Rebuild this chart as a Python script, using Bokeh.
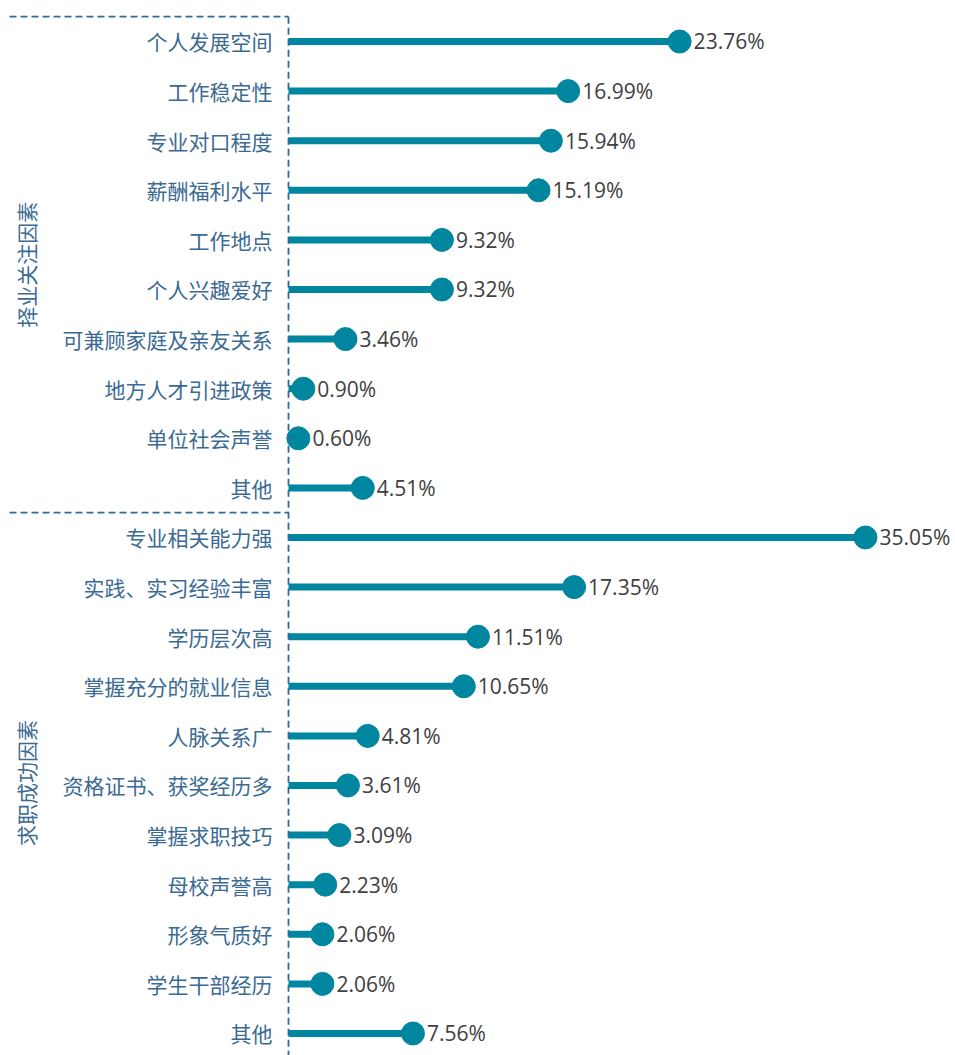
from bokeh.plotting import figure
from bokeh.models import ColumnDataSource, Range1d
from bokeh.core.properties import value
from bokeh.embed import file_html
from bokeh.resources import INLINE
import math

group_labels = ["择业关注因素", "求职成功因素"]
categories1 = ["个人发展空间", "工作稳定性", "专业对口程度", "薪酬福利水平", "工作地点",
               "个人兴趣爱好", "可兼顾家庭及亲友关系", "地方人才引进政策", "单位社会声誉", "其他"]
values1 = [23.76, 16.99, 15.94, 15.19, 9.32, 9.32, 3.46, 0.90, 0.60, 4.51]
categories2 = ["专业相关能力强", "实践、实习经验丰富", "学历层次高", "掌握充分的就业信息", "人脉关系广",
               "资格证书、获奖经历多", "掌握求职技巧", "母校声誉高", "形象气质好", "学生干部经历", "其他"]
values2 = [35.05, 17.35, 11.51, 10.65, 4.81, 3.61, 3.09, 2.23, 2.06, 2.06, 7.56]

cats = categories1 + categories2
vals = values1 + values2
rows = list(range(len(cats)))

src = ColumnDataSource(dict(
    y=rows, x=vals, zero=[0] * len(vals), cat=cats,
    lab=[f"{v:.2f}%" for v in vals],
))

W, H = 955, 1055
p = figure(width=W, height=H, output_backend="svg", toolbar_location=None,
           x_range=Range1d(-17.497, 40.52), y_range=Range1d(20.444, -0.8266),
           min_border=0)
p.axis.visible = False
p.grid.visible = False
p.outline_line_color = None
p.background_fill_color = "white"
p.border_fill_color = "white"

TEAL = "#00869F"
DASH = "#2E6A9E"
LABEL = "#3B6A93"
CJK = value("Noto Sans CJK SC")

p.segment(x0="zero", y0="y", x1="x", y1="y", source=src, line_color=TEAL,
          line_width=7, line_cap="butt")
p.scatter(x="x", y="y", source=src, size=23, fill_color=TEAL, line_color=TEAL)

p.text(x="x", y="y", text="lab", source=src, x_offset=14,
       text_font=value("Open Sans"), text_font_size="21px", text_color="#404040",
       text_align="left", text_baseline="middle")

p.text(x="zero", y="y", text="cat", source=src, x_offset=-16,
       text_font=CJK, text_font_size="21px", text_color=LABEL,
       text_align="right", text_baseline="middle")

n1 = len(categories1)
n2 = len(categories2)
sep = n1 - 0.5
# dashed frame lines
p.segment(x0=[0, -16.95, -16.95], y0=[-0.5, -0.5, sep],
          x1=[0, 0, 0], y1=[20.8, -0.5, sep],
          line_color=DASH, line_width=1.8, line_dash="7 4")

p.text(x=[-15.92, -15.92], y=[(n1 - 1) / 2, n1 + (n2 - 1) / 2 - 0.05], text=group_labels,
       angle=math.pi / 2, text_font=CJK, text_font_size="21px", text_color=LABEL,
       text_align="center", text_baseline="middle")

open("out.html", "w").write(file_html(p, INLINE))
